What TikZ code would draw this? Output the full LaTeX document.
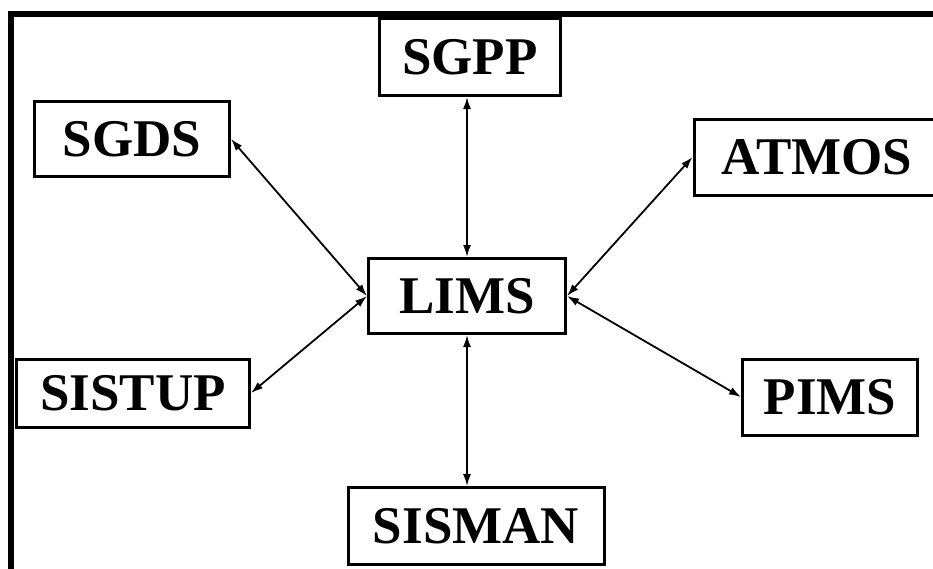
\documentclass[tikz,border=0pt]{standalone}
\usepackage{fontspec}
\setmainfont{Liberation Serif}
\usetikzlibrary{positioning,arrows.meta}

\begin{document}
\begin{tikzpicture}[x=1pt,y=-1pt,
    sys/.style={draw,line width=3pt,inner sep=0pt,fill=white,
      font=\fontsize{53}{53}\selectfont\bfseries},
    link/.style={{Latex[length=12pt,width=8pt]}-{Latex[length=12pt,width=8pt]},line width=1.8pt}]
    \useasboundingbox (0,0) rectangle (933,568);
    \draw[line width=6pt] (11,600) -- (11,14) -- (960,14);
    \node[sys,minimum width=181,minimum height=77] (sgpp) at (470,57) {SGPP};
    \node[sys,minimum width=197,minimum height=75] (lims) at (467,296) {LIMS};
    \node[sys,minimum width=195,minimum height=75] (sgds) at (132,139) {SGDS};
    \node[sys,minimum width=246,minimum height=76] (atmos) at (817,157) {ATMOS};
    \node[sys,minimum width=233,minimum height=68] (sistup) at (133,393) {SISTUP};
    \node[sys,minimum width=175,minimum height=76] (pims) at (830,397) {PIMS};
    \node[sys,minimum width=256,minimum height=77] (sisman) at (476,526) {SISMAN};
    \draw[link] (lims.north) -- (lims.north |- sgpp.south);
    \draw[link] (lims.south) -- (lims.south |- sisman.north);
    \draw[link] (lims.west) -- (sgds.east);
    \draw[link] (lims.west) -- (sistup.east);
    \draw[link] (lims.east) -- (atmos.west);
    \draw[link] (lims.east) -- (pims.west);
\end{tikzpicture}
\end{document}
